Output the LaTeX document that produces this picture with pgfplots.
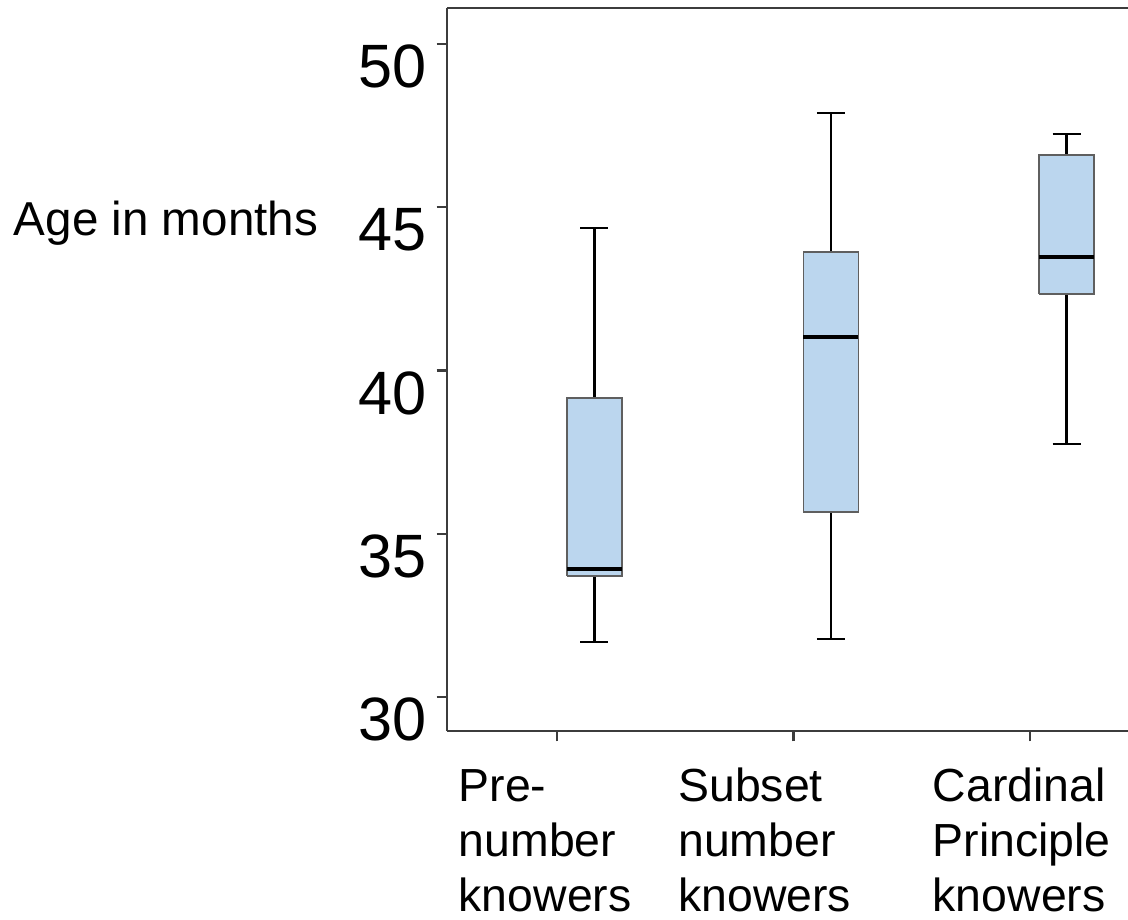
\documentclass[border=0pt]{standalone}
\usepackage{pgfplots}
\pgfplotsset{compat=1.18}
\usepackage{fontspec}
\setmainfont{Liberation Sans}
\usetikzlibrary{calc}
\definecolor{boxblue}{RGB}{187,214,238}
\definecolor{boxedge}{RGB}{95,95,95}
\definecolor{axcol}{RGB}{60,60,60}
\newcommand{\lab}[2]{\hspace*{#1}\begin{tabular}[t]{@{}l@{}}#2\end{tabular}}
\begin{document}
\begin{tikzpicture}
\begin{axis}[
  scale only axis,
  width=170.25pt, height=180.75pt,
  xmin=0.5349, xmax=3.4144,
  ymin=28.959, ymax=51.103,
  axis x line*=bottom, axis y line*=left,
  axis line style={axcol, line width=0.6pt},
  tick align=outside,
  major tick length=2.6pt,
  tick style={axcol, line width=0.6pt},
  ytick={30,35,40,45,50},
  xtick={1,2,3},
  xticklabels={
    {\lab{4.25pt}{Pre-\\number\\knowers}},
    {\lab{0pt}{Subset\\number\\knowers}},
    {\lab{4.5pt}{Cardinal\\Principle\\knowers}}},
  /pgf/number format/assume math mode=true,
  yticklabel style={font=\fontsize{15.3}{18}\selectfont, anchor=north east, inner sep=0pt},
  yticklabel shift=2.3pt,
  xticklabel style={font=\fontsize{11.6}{13.75}\selectfont, anchor=north west, inner sep=0pt, xshift=-29pt},
  xticklabel shift=5.3pt,
  ylabel={Age in months},
  every axis y label/.style={at={(rel axis cs:0,0.686)}, anchor=base west, xshift=-108.5pt, inner sep=0pt, font=\fontsize{11.9}{14}\selectfont},
  clip=false,
]
% Pre-number knowers: lw 31.68, q1 33.71, med 33.92, q3 39.16, uw 44.36
\addplot[black, line width=0.6pt] coordinates {(1.158,39.16) (1.158,44.36)};
\addplot[black, line width=0.6pt] coordinates {(1.099,44.36) (1.217,44.36)};
\addplot[black, line width=0.6pt] coordinates {(1.158,33.71) (1.158,31.68)};
\addplot[black, line width=0.6pt] coordinates {(1.099,31.68) (1.217,31.68)};
\addplot[draw=boxedge, fill=boxblue, line width=0.4pt] coordinates {(1.0417,33.71) (1.2743,33.71) (1.2743,39.16) (1.0417,39.16) (1.0417,33.71)};
\addplot[black, line width=1.1pt] coordinates {(1.0417,33.92) (1.2743,33.92)};
% Subset number knowers: lw 31.78, q1 35.67, med 41.03, q3 43.63, uw 47.89
\addplot[black, line width=0.6pt] coordinates {(2.158,43.63) (2.158,47.89)};
\addplot[black, line width=0.6pt] coordinates {(2.099,47.89) (2.217,47.89)};
\addplot[black, line width=0.6pt] coordinates {(2.158,35.67) (2.158,31.78)};
\addplot[black, line width=0.6pt] coordinates {(2.099,31.78) (2.217,31.78)};
\addplot[draw=boxedge, fill=boxblue, line width=0.4pt] coordinates {(2.0417,35.67) (2.2743,35.67) (2.2743,43.63) (2.0417,43.63) (2.0417,35.67)};
\addplot[black, line width=1.1pt] coordinates {(2.0417,41.03) (2.2743,41.03)};
% Cardinal Principle knowers: lw 37.75, q1 42.34, med 43.48, q3 46.60, uw 47.24
\addplot[black, line width=0.6pt] coordinates {(3.155,46.60) (3.155,47.24)};
\addplot[black, line width=0.6pt] coordinates {(3.096,47.24) (3.214,47.24)};
\addplot[black, line width=0.6pt] coordinates {(3.155,42.34) (3.155,37.75)};
\addplot[black, line width=0.6pt] coordinates {(3.096,37.75) (3.214,37.75)};
\addplot[draw=boxedge, fill=boxblue, line width=0.4pt] coordinates {(3.0387,42.34) (3.2713,42.34) (3.2713,46.60) (3.0387,46.60) (3.0387,42.34)};
\addplot[black, line width=1.1pt] coordinates {(3.0387,43.48) (3.2713,43.48)};
\draw[axcol, line width=0.6pt] (rel axis cs:0,1) -- (rel axis cs:1,1);
\end{axis}
\pgfresetboundingbox
\path[use as bounding box] ($(current axis.south west)+(-111.75pt,-47.25pt)$) rectangle ($(current axis.north east)+(0pt,2pt)$);
\end{tikzpicture}
\end{document}
